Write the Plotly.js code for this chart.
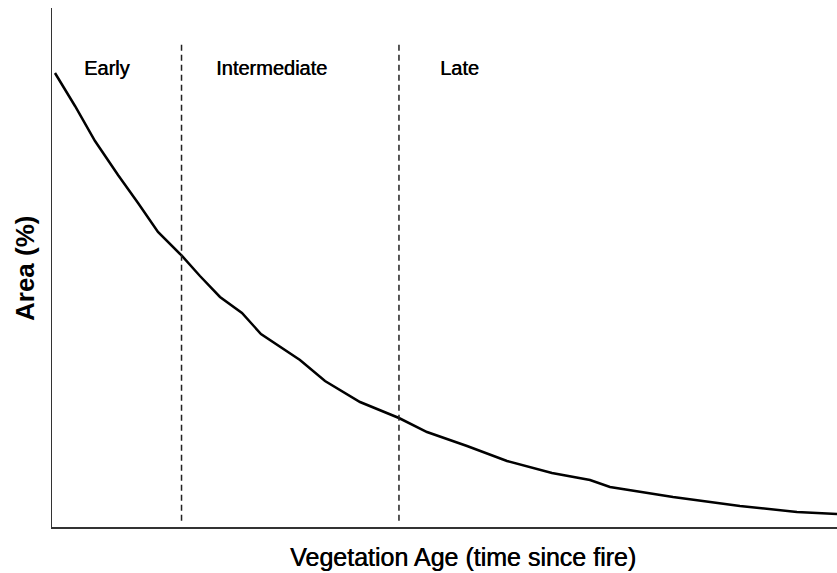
<!DOCTYPE html>
<html>
<head>
<meta charset="utf-8">
<script src="https://cdn.plot.ly/plotly-3.0.1.min.js"></script>
<style>html,body{margin:0;padding:0;background:#fff;}#chart{width:837px;height:573px;}</style>
</head>
<body>
<div id="chart"></div>
<script>
// Vegetation age (arbitrary units, 0-100) and area (%)
var ageValues = [0.38, 2.93, 5.48, 8.41, 10.96, 13.50, 16.56, 18.85, 21.40, 24.20, 26.62, 29.68, 31.59, 34.78, 36.69, 39.24, 44.20, 47.77, 52.87, 57.96, 63.69, 68.54, 71.08, 79.11, 87.64, 94.90, 100];
var areaValues = [87.48, 81.12, 74.37, 67.82, 62.43, 56.84, 52.22, 48.36, 44.32, 41.23, 37.19, 34.10, 32.18, 28.13, 26.45, 24.08, 21.00, 18.30, 15.61, 12.72, 10.40, 9.06, 7.71, 5.78, 4.05, 2.89, 2.50];
var boundaryAges = [16.5, 44.2];
var boundaryTop = 93.3;
var stageLabels = ["Early", "Intermediate", "Late"];
var stageLabelX = [7.0, 27.96, 51.97];
var stageLabelY = 88.4;
var xTitle = "Vegetation Age (time since fire)";
var yTitle = "Area (%)";

var FONT = 'Liberation Sans, Arial, sans-serif';
var SHADOW = '0.5px 0px 0px #000';

var traces = [{
  x: ageValues, y: areaValues, type: 'scatter', mode: 'lines',
  line: {color: '#000', width: 2.5, shape: 'linear'}, hoverinfo: 'skip'
}];

var shapes = boundaryAges.map(function (a) {
  return {type: 'line', xref: 'x', yref: 'y', x0: a, x1: a, y0: 1.2, y1: boundaryTop,
          line: {color: '#222', width: 1.5, dash: '6px,4px'}};
});

var annotations = stageLabels.map(function (t, i) {
  return {text: t, x: stageLabelX[i], y: stageLabelY, xref: 'x', yref: 'y',
          showarrow: false, xanchor: 'center', yanchor: 'middle',
          font: {family: FONT, size: 20, color: '#000', shadow: SHADOW}};
});
annotations.push({text: xTitle, xref: 'paper', yref: 'paper', x: 0.5236, y: -0.0578,
  showarrow: false, xanchor: 'center', yanchor: 'middle',
  font: {family: FONT, size: 25, color: '#000', shadow: SHADOW}});
annotations.push({text: '<b>' + yTitle + '</b>', xref: 'paper', yref: 'paper', x: -0.0344, y: 0.499,
  showarrow: false, xanchor: 'center', yanchor: 'middle', textangle: -90,
  font: {family: FONT, size: 26, color: '#000'}});

var layout = {
  width: 837, height: 573,
  margin: {l: 52, r: 0, t: 8, b: 46},
  paper_bgcolor: '#fff', plot_bgcolor: '#fff',
  showlegend: false,
  xaxis: {range: [0, 100], showgrid: false, zeroline: false, showticklabels: false, ticks: '',
          showline: true, linecolor: '#333', linewidth: 2, fixedrange: true},
  yaxis: {range: [0, 100], showgrid: false, zeroline: false, showticklabels: false, ticks: '',
          showline: true, linecolor: '#333', linewidth: 1.5, fixedrange: true},
  shapes: shapes,
  annotations: annotations
};

Plotly.newPlot('chart', traces, layout, {displayModeBar: false, staticPlot: true});
</script>
</body>
</html>
